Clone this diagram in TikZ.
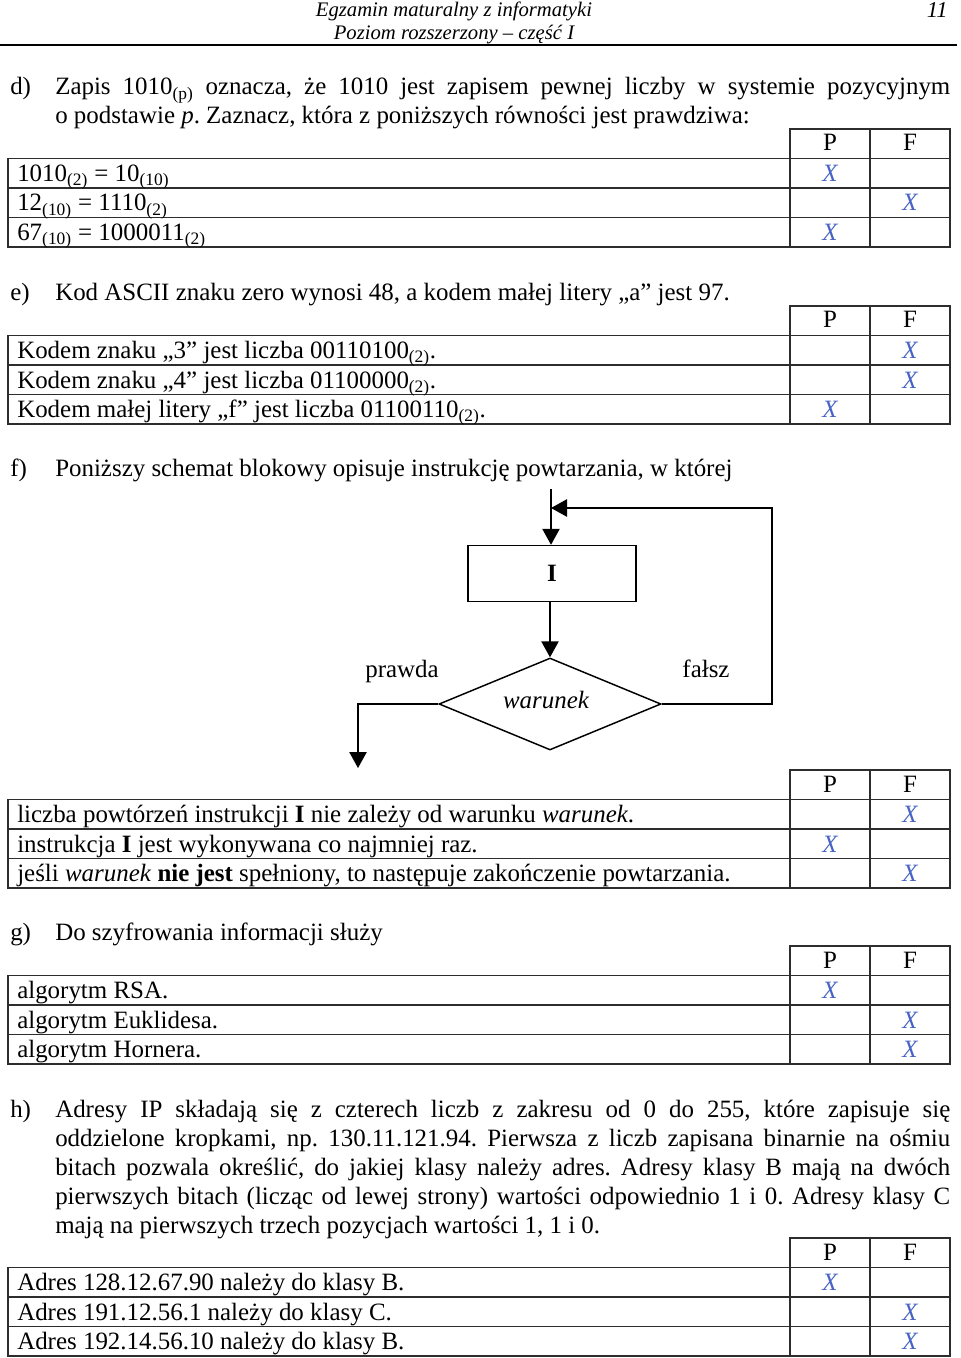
\documentclass[tikz,border=0pt]{standalone}
\usepackage{fontspec}
\setmainfont{Liberation Serif}
\usetikzlibrary{arrows.meta,shapes.geometric}
\definecolor{xblue}{RGB}{70,100,195}
\definecolor{ln}{RGB}{45,45,45}
\newcommand\sbs[1]{\textsubscript{#1}}
\newcommand\bodyfont{\fontsize{18.7}{22}\selectfont\frenchspacing}
\newcommand\pftab[1]{%
  \draw[grid] (790,#1) rectangle (950,{#1+29.5});
  \draw[grid] (8,{#1+29.5}) rectangle (950,{#1+118});
  \draw[grid] (8,{#1+59}) -- (950,{#1+59});
  \draw[grid] (8,{#1+88.5}) -- (950,{#1+88.5});
  \draw[grid] (790,{#1+29.5}) -- (790,{#1+118});
  \draw[grid] (870,#1) -- (870,{#1+118});
  \node[pf] at (830,{#1+22}) {P};
  \node[pf] at (910,{#1+22}) {F};
}
\begin{document}
\begin{tikzpicture}[x=0.75pt,y=-0.75pt,
  txt/.style={anchor=base west, inner sep=0, font=\bodyfont},
  xm/.style={anchor=base, inner sep=0, text=xblue, font=\bodyfont\itshape},
  pf/.style={anchor=base, inner sep=0, font=\bodyfont},
  hdr/.style={anchor=base, inner sep=0, font=\fontsize{15.5}{18}\selectfont\itshape},
  grid/.style={draw=ln, line width=1.1pt},
  flow/.style={draw=black, line width=1.1pt},
  arr/.style={-{Triangle[length=12pt,width=13pt]}}
]
\fill[white] (0,0) rectangle (960,1358);
\useasboundingbox (0,0) rectangle (960,1358);

% header
\node[hdr] (h1) at (454,17) {Egzamin maturalny z informatyki};
\node[hdr] (h2) at (454,40) {Poziom rozszerzony – część I};
\node[hdr, anchor=base east, font=\fontsize{17}{18}\selectfont\itshape] (pg) at (948,18) {11};
\draw[line width=1.5pt] (0,45.5) -- (957,45.5);

% d)
\node[txt] (dl) at (10,95) {d)};
\node[txt] (d1) at (55,95) {\makebox[671.25pt][s]{Zapis 1010\sbs{(p)} oznacza, że 1010 jest zapisem pewnej liczby w systemie pozycyjnym}};
\node[txt] (d2) at (55,124) {o podstawie \textit{p}. Zaznacz, która z poniższych równości jest prawdziwa:};
\pftab{129}
\node[txt] (d3) at (17,181.5) {1010\sbs{(2)} = 10\sbs{(10)}};
\node[txt] (d4) at (17,211) {12\sbs{(10)} = 1110\sbs{(2)}};
\node[txt] (d5) at (17,240.5) {67\sbs{(10)} = 1000011\sbs{(2)}};
\node[xm] (dx1) at (830,181.5) {X};
\node[xm] (dx2) at (910,211) {X};
\node[xm] (dx3) at (830,240.5) {X};

% e)
\node[txt] (el) at (10,301) {e)};
\node[txt] (e1) at (55,301) {Kod ASCII znaku zero wynosi 48, a kodem małej litery „a” jest 97.};
\pftab{306}
\node[txt] (e3) at (17,358.5) {Kodem znaku „3” jest liczba 00110100\sbs{(2)}.};
\node[txt] (e4) at (17,388) {Kodem znaku „4” jest liczba 01100000\sbs{(2)}.};
\node[txt] (e5) at (17,417.5) {Kodem małej litery „f” jest liczba 01100110\sbs{(2)}.};
\node[xm] (ex1) at (910,358.5) {X};
\node[xm] (ex2) at (910,388) {X};
\node[xm] (ex3) at (830,417.5) {X};

% f)
\node[txt] (fl) at (10,476) {f)};
\node[txt] (f1) at (55,476) {Poniższy schemat blokowy opisuje instrukcję powtarzania, w której};

% flowchart
\coordinate (start) at (551,489);
\node[flow, rectangle, minimum width=126pt, minimum height=42pt, inner sep=0, font=\bodyfont\bfseries] (I) at (552,573.5) {I};
\node[flow, diamond, minimum width=166.5pt, minimum height=69pt, inner sep=0] (war) at (550,704) {};
\node[inner sep=0, font=\bodyfont\itshape] (wt) at (546,700) {warunek};
\draw[flow, arr] (start) -- (start |- I.north);
\draw[flow, arr] (I.south -| war.north) -- (war.north);
\coordinate (loopR) at (772,704);
\coordinate (loopT) at (772,508);
\draw[flow, arr] (war.east) -- (loopR) -- (loopT) -- (start |- loopT);
\coordinate (outL) at (358,704);
\coordinate (outE) at (358,768);
\draw[flow, arr] (war.west) -- (outL) -- (outE);
\node[txt, anchor=base] (prawda) at (402,677) {prawda};
\node[txt, anchor=base] (falsz) at (706,677) {fałsz};

\pftab{770}
\node[txt] (f3) at (17,822.5) {liczba powtórzeń instrukcji \textbf{I} nie zależy od warunku \textit{warunek}.};
\node[txt] (f4) at (17,852) {instrukcja \textbf{I} jest wykonywana co najmniej raz.};
\node[txt] (f5) at (17,881.5) {jeśli \textit{warunek} \textbf{nie jest} spełniony, to następuje zakończenie powtarzania.};
\node[xm] (fx1) at (910,822.5) {X};
\node[xm] (fx2) at (830,852) {X};
\node[xm] (fx3) at (910,881.5) {X};

% g)
\node[txt] (gl) at (10,940) {g)};
\node[txt] (g1) at (55,940) {Do szyfrowania informacji służy};
\pftab{946}
\node[txt] (g3) at (17,998.5) {algorytm RSA.};
\node[txt] (g4) at (17,1028) {algorytm Euklidesa.};
\node[txt] (g5) at (17,1057.5) {algorytm Hornera.};
\node[xm] (gx1) at (830,998.5) {X};
\node[xm] (gx2) at (910,1028) {X};
\node[xm] (gx3) at (910,1057.5) {X};

% h)
\node[txt] (hl) at (10,1117) {h)};
\node[txt] (hh1) at (55,1117) {\makebox[671.25pt][s]{Adresy IP składają się z czterech liczb z zakresu od 0 do 255, które zapisuje się}};
\node[txt] (hh2) at (55,1146) {\makebox[671.25pt][s]{oddzielone kropkami, np. 130.11.121.94. Pierwsza z liczb zapisana binarnie na ośmiu}};
\node[txt] (hh3) at (55,1175) {\makebox[671.25pt][s]{bitach pozwala określić, do jakiej klasy należy adres. Adresy klasy B mają na dwóch}};
\node[txt] (hh4) at (55,1204) {\makebox[671.25pt][s]{pierwszych bitach (licząc od lewej strony) wartości odpowiednio 1 i 0. Adresy klasy C}};
\node[txt] (hh5) at (55,1233) {mają na pierwszych trzech pozycjach wartości 1, 1 i 0.};
\pftab{1238}
\node[txt] (h3) at (17,1290.5) {Adres 128.12.67.90 należy do klasy B.};
\node[txt] (h4) at (17,1320) {Adres 191.12.56.1 należy do klasy C.};
\node[txt] (h5) at (17,1349.5) {Adres 192.14.56.10 należy do klasy B.};
\node[xm] (hx1) at (830,1290.5) {X};
\node[xm] (hx2) at (910,1320) {X};
\node[xm] (hx3) at (910,1349.5) {X};
\end{tikzpicture}
\end{document}
